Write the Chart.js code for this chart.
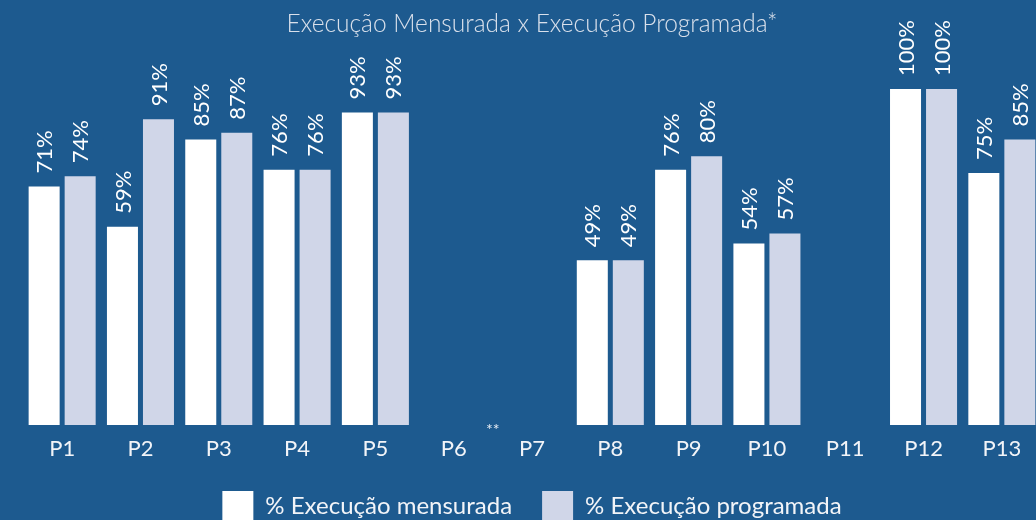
<!DOCTYPE html>
<html><head><meta charset="utf-8">
<script src="https://cdn.jsdelivr.net/npm/chart.js@4.4.1/dist/chart.umd.min.js"></script>
<style>
html,body{margin:0;padding:0;background:#1d5a8f;overflow:hidden;width:1036px;height:520px}
#wrap{width:1060px;height:532px;position:relative}
canvas{display:block}
</style></head><body>
<div id="wrap"><canvas id="c" width="1060" height="532"></canvas></div>
<script>
const categories = ['P1','P2','P3','P4','P5','P6','P7','P8','P9','P10','P11','P12','P13'];
const measured   = [71, 59, 85, 76, 93, null, null, 49, 76, 54, null, 100, 75];
const programmed = [74, 91, 87, 76, 93, null, null, 49, 80, 57, null, 100, 85];
const seriesNames = ['% Execução mensurada', '% Execução programada'];
const chartTitle = 'Execução Mensurada x Execução Programada*';
const footnoteMark = '**';
const footnoteBetween = ['P6', 'P7'];

const FONT = 'Lato, "Open Sans", sans-serif';

const valueLabels = {
  id: 'valueLabels',
  afterDatasetsDraw(chart) {
    const ctx = chart.ctx;
    chart.data.datasets.forEach((ds, di) => {
      const meta = chart.getDatasetMeta(di);
      meta.data.forEach((bar, i) => {
        const v = ds.data[i];
        if (v === null || v === undefined) return;
        ctx.save();
        ctx.translate(bar.x + 1, bar.y - 13);
        ctx.rotate(-Math.PI / 2);
        ctx.font = '400 22px ' + FONT;
        ctx.fillStyle = '#ffffff';
        ctx.textAlign = 'left';
        ctx.textBaseline = 'middle';
        ctx.fillText(v + '%', 0, 0);
        ctx.restore();
      });
    });
  }
};

const footnote = {
  id: 'footnote',
  afterDraw(chart) {
    const xs = chart.scales.x;
    const a = xs.getPixelForValue(categories.indexOf(footnoteBetween[0]));
    const b = xs.getPixelForValue(categories.indexOf(footnoteBetween[1]));
    const ctx = chart.ctx;
    ctx.save();
    ctx.font = '16px ' + FONT;
    ctx.fillStyle = '#e8edf4';
    ctx.textAlign = 'center';
    ctx.textBaseline = 'alphabetic';
    ctx.fillText(footnoteMark, (a + b) / 2, chart.chartArea.bottom + 10);
    ctx.restore();
  }
};

new Chart(document.getElementById('c'), {
  type: 'bar',
  data: {
    labels: categories,
    datasets: [
      { label: seriesNames[0], data: measured, backgroundColor: '#ffffff', borderWidth: 0 },
      { label: seriesNames[1], data: programmed, backgroundColor: '#d0d6e8', borderWidth: 0 }
    ]
  },
  options: {
    responsive: false,
    animation: false,
    categoryPercentage: 0.92,
    barPercentage: 0.861,
    layout: { padding: { left: 23, right: 19, top: 0, bottom: 0 } },
    scales: {
      x: {
        grid: { display: false, drawTicks: false },
        border: { display: false },
        ticks: { color: '#f2f4f8', font: { family: FONT, size: 22, lineHeight: 1.0 }, padding: 13, maxRotation: 0, autoSkip: false },
        afterFit(scale) { scale.height = 36; }
      },
      y: { display: false, min: 0, max: 100 }
    },
    plugins: {
      title: {
        display: true, text: chartTitle, color: '#d9e0eb',
        font: { family: FONT, size: 24.5, weight: '300' },
        padding: { top: 9.5, bottom: 50.1 }
      },
      legend: {
        position: 'bottom',
        labels: { boxWidth: 31, boxHeight: 31, padding: 30, color: '#f2f4f8', font: { family: FONT, size: 24 } }
      },
      tooltip: { enabled: false }
    }
  },
  plugins: [valueLabels, footnote]
});
</script>
</body></html>
